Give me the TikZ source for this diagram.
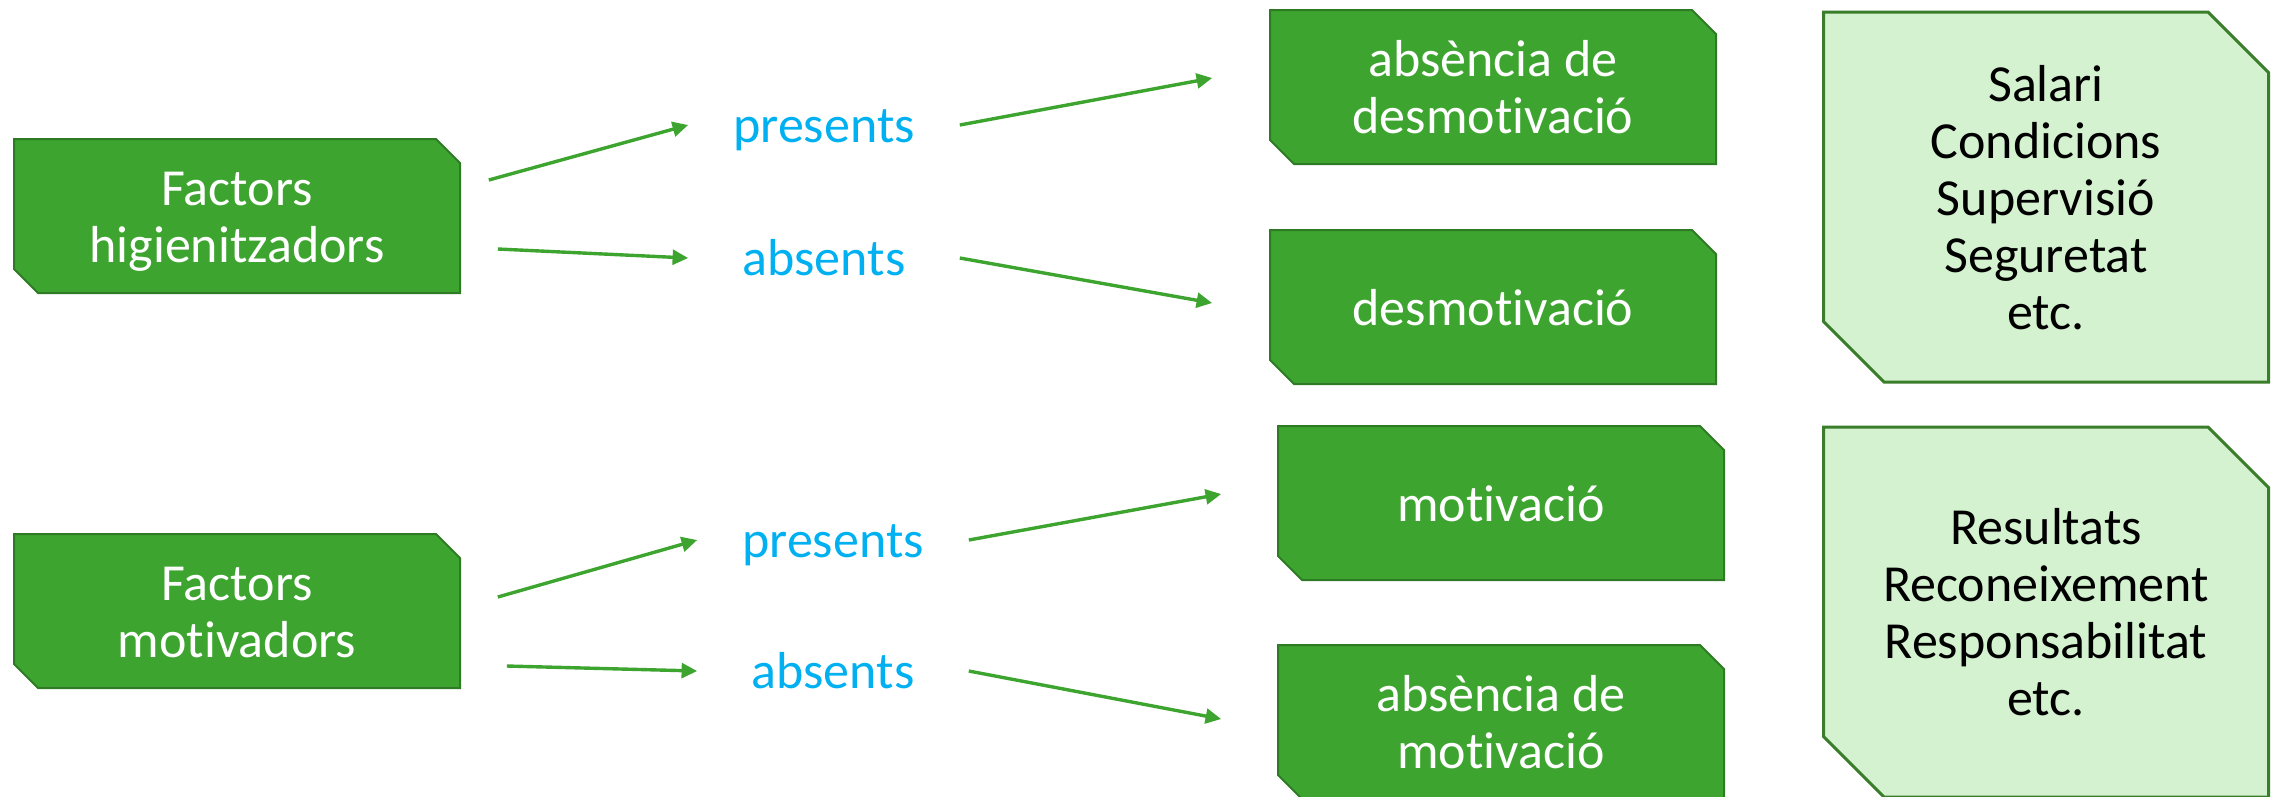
\documentclass[tikz,border=0pt]{standalone}
\usepackage{fontspec}
\setmainfont[Ligatures={NoCommon}]{Carlito}
\usetikzlibrary{calc,arrows.meta}

\definecolor{leafgreen}{RGB}{61,165,47}
\definecolor{darkleaf}{RGB}{47,122,36}
\definecolor{palegreen}{RGB}{212,242,208}
\definecolor{paleedge}{RGB}{58,125,42}
\definecolor{skyblue}{RGB}{0,176,240}

% keeps the text of a box a bit below the middle
\newcommand{\boxlines}[1]{\rule{0pt}{13pt}#1\rule[-4pt]{0pt}{4pt}}

\begin{document}
\begin{tikzpicture}[x=0.25pt,y=-0.25pt,
    darkcut/.style={path picture={
      \filldraw[fill=leafgreen,draw=darkleaf,line width=0.5pt]
      ([xshift=0.25pt,yshift=-0.25pt]path picture bounding box.north west)
      -- ([xshift=-6.25pt,yshift=-0.25pt]path picture bounding box.north east)
      -- ([xshift=-0.25pt,yshift=-6.25pt]path picture bounding box.north east)
      -- ([xshift=-0.25pt,yshift=0.25pt]path picture bounding box.south east)
      -- ([xshift=6.25pt,yshift=0.25pt]path picture bounding box.south west)
      -- ([xshift=0.25pt,yshift=6.25pt]path picture bounding box.south west)
      -- cycle;
    }},
    palecut/.style={path picture={
      \filldraw[fill=palegreen,draw=paleedge,line width=0.75pt]
      ([xshift=0.375pt,yshift=-0.375pt]path picture bounding box.north west)
      -- ([xshift=-15.5pt,yshift=-0.375pt]path picture bounding box.north east)
      -- ([xshift=-0.375pt,yshift=-15.5pt]path picture bounding box.north east)
      -- ([xshift=-0.375pt,yshift=0.375pt]path picture bounding box.south east)
      -- ([xshift=15.5pt,yshift=0.375pt]path picture bounding box.south west)
      -- ([xshift=0.375pt,yshift=15.5pt]path picture bounding box.south west)
      -- cycle;
    }}]

    % `factor' is used for the green boxes, `state' for the blue words.
    % `list' holds the examples on the right.
    \tikzstyle{factor} = [darkcut,minimum width=112pt,minimum height=39pt,inner sep=0pt,
      text=white,align=center,font=\fontsize{13}{14.25}\selectfont]
    \tikzstyle{list} = [palecut,minimum width=112pt,minimum height=93.25pt,inner sep=0pt,
      text=black,align=center,font=\fontsize{13}{14.25}\selectfont]
    \tikzstyle{state} = [text=skyblue,font=\fontsize{13}{14.25}\selectfont,anchor=base,
      minimum width=67.5pt,inner sep=0pt,text height=11pt,text depth=2.5pt]
    \tikzstyle{arr} = [draw=leafgreen,line width=0.85pt,-{Triangle[length=3.9pt,width=3.7pt]}]
    %
    \useasboundingbox (0,0) rectangle (2281,796);

    % Hygiene factors.
    \node[factor] (FH) at (237,216) {\boxlines{Factors\\higienitzadors}};
    \node[state] (P1) at (824,142) {presents};
    \node[state] (A1) at (824,275) {absents};
    \node[factor] (ADM) at (1493,87) {\boxlines{absència de\\desmotivació}};
    \node[factor] (DM) at (1493,307) {\boxlines{desmotivació}};
    \node[list] (L1) at (2046,197) {\boxlines{Salari\\Condicions\\Supervisió\\Seguretat\\etc.}};

    % Motivating factors.
    \node[factor] (FM) at (237,611) {\boxlines{Factors\\motivadors}};
    \node[state] (P2) at (833,557) {presents};
    \node[state] (A2) at (833,688) {absents};
    \node[factor] (MO) at (1501,503) {\boxlines{motivació}};
    \node[factor] (AMO) at (1501,722) {\boxlines{absència de\\motivació}};
    \node[list] (L2) at (2046,612) {\boxlines{Resultats\\Reconeixement\\Responsabilitat\\etc.}};

    % Draw arrows.
    \draw[arr] ($(FH.east)+(27,-36)$) -- (P1.west);
    \draw[arr] ($(FH.east)+(36,33)$) -- (A1.west);
    \draw[arr] (P1.east) -- ($(ADM.west)+(-56,-9)$);
    \draw[arr] (A1.east) -- ($(DM.west)+(-56,-4)$);
    \draw[arr] ($(FM.east)+(36,-14)$) -- (P2.west);
    \draw[arr] ($(FM.east)+(45,55)$) -- (A2.west);
    \draw[arr] (P2.east) -- ($(MO.west)+(-55,-9)$);
    \draw[arr] (A2.east) -- ($(AMO.west)+(-55,-3)$);
    %
\end{tikzpicture}
\end{document}
